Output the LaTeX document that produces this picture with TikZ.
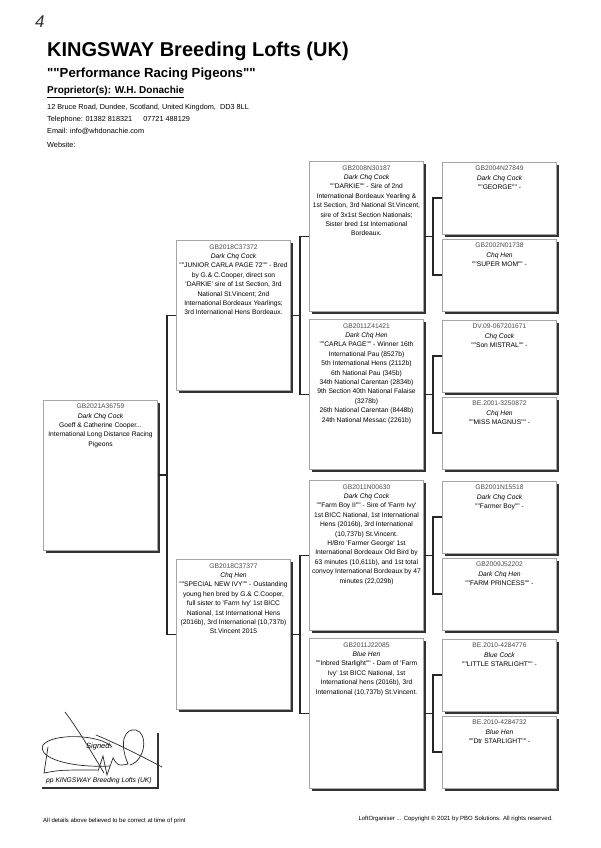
\documentclass[tikz,border=0pt]{standalone}
\usepackage{fontspec}
\setmainfont{Liberation Sans}[Ligatures=TeXOff]
\usetikzlibrary{trees,shadows}
\newcommand{\pigeon}[4][142pt]{\parbox[c][#1][t]{112pt}{\centering
  {\color{black!70}#2}\\ {\itshape #3}\\ #4\par}}
\tikzset{
  ped_box/.style = {rectangle, draw=black!35, fill=white, line width=0.4pt,
    inner xsep=1pt, inner ysep=4pt, font=\fontsize{6.7}{9.4}\selectfont,
    drop shadow={shadow xshift=2.5pt, shadow yshift=-2.5pt,
      fill=black!80, opacity=1}},% pedigree, one bird
  ped_link/.style = {draw, line width=1.6pt, black!85},% pedigree, fork line
  head_txt/.style = {anchor=base west, inner sep=0pt},% letterhead text
  sig_pen/.style = {line width=0.7pt, black!85, line cap=round}% signature stroke
}

\begin{document}
\begin{tikzpicture}[x=1pt,y=-1pt,grow'=right,level distance=133pt,
  level 1/.style={sibling distance=319pt},
  level 2/.style={sibling distance=158pt},
  level 3/.style={sibling distance=77pt},
  edge from parent/.style={ped_link},
  edge from parent path={(\tikzparentnode.east) -- +(9.5pt,0)
    |- (\tikzchildnode.west)}]
\useasboundingbox (0,0) rectangle (600,848);

% letterhead
\node [head_txt, font=\itshape\fontsize{17}{17}\selectfont, black!80] (pagenum) at (35,28) {4};
\node [head_txt, font=\bfseries\fontsize{20}{24}\selectfont] (title) at (47,57) {KINGSWAY Breeding Lofts (UK)};
\node [head_txt, font=\bfseries\fontsize{13.2}{16}\selectfont] (motto) at (47,78) {""Performance Racing Pigeons""};
\node [head_txt, font=\bfseries\fontsize{10}{12}\selectfont] (owner) at (47,94) {\underline{Proprietor(s): W.H. Donachie}};
\node [head_txt, font=\fontsize{7.3}{9}\selectfont] (addr) at (47,109.5) {12 Bruce Road, Dundee, Scotland, United Kingdom,\ \ DD3 8LL};
\node [head_txt, font=\fontsize{7.3}{9}\selectfont] (phone) at (47,121.5) {Telephone: 01382 818321\hspace{11pt}07721 488129};
\node [head_txt, font=\fontsize{7.3}{9}\selectfont] (mail) at (47,134) {Email: info@whdonachie.com};
\node [head_txt, font=\fontsize{7.3}{9}\selectfont] (web) at (47,147) {Website:};

% pedigree
\node [ped_box] (bird) at (100.5,475) {\pigeon{GB2021A36759}{Dark Chq Cock}{Goeff \& Catherine Cooper...\\International Long Distance Racing\\Pigeons}}
    child{ node [ped_box] (sire) {\pigeon{GB2018C37372}{Dark Chq Cock}{""JUNIOR CARLA PAGE 72"" - Bred\\by G.\& C.Cooper, direct son\\'DARKIE' sire of 1st Section, 3rd\\National St.Vincent; 2nd\\International Bordeaux Yearlings;\\3rd International Hens Bordeaux.}}
            child{ node [ped_box] (sire_s) {\pigeon{GB2008N30187}{Dark Chq Cock}{""DARKIE"" - Sire of 2nd\\International Bordeaux Yearling \&\\1st Section, 3rd National St.Vincent,\\sire of 3x1st Section Nationals;\\Sister bred 1st International\\Bordeaux.}}
                    child{ node [ped_box] (sire_ss) {\pigeon[64pt]{GB2004N27849}{Dark Chq Cock}{""GEORGE"" -}}}
                    child{ node [ped_box] (sire_sd) {\pigeon[64pt]{GB2002N01738}{Chq Hen}{""SUPER MOM"" -}}}
            }
            child{ node [ped_box] (sire_d) {\pigeon{GB2011Z41421}{Dark Chq Hen}{""CARLA PAGE"" - Winner 16th\\International Pau (8527b)\\5th International Hens (2112b)\\6th National Pau (345b)\\34th National Carentan (2834b)\\9th Section 40th National Falaise\\(3278b)\\26th National Carentan (8448b)\\24th National Messac (2261b)}}
                    child{ node [ped_box] (sire_ds) {\pigeon[64pt]{DV.09-067201671}{Chq Cock}{""Son MISTRAL"" -}}}
                    child{ node [ped_box] (sire_dd) {\pigeon[64pt]{BE.2001-3250872}{Chq Hen}{""MISS MAGNUS"" -}}}
            }
    }
    child{ node [ped_box] (dam) {\pigeon{GB2018C37377}{Chq Hen}{""SPECIAL NEW IVY"" - Oustanding\\young hen bred by G.\& C.Cooper,\\full sister to 'Farm Ivy' 1st BICC\\National, 1st International Hens\\(2016b), 3rd International (10,737b)\\St.Vincent 2015}}
            child{ node [ped_box] (dam_s) {\pigeon{GB2011N00630}{Dark Chq Cock}{""Farm Boy II"" - Sire of 'Farm Ivy'\\1st BICC National, 1st International\\Hens (2016b), 3rd International\\(10,737b) St.Vincent.\\H/Bro 'Farmer George' 1st\\International Bordeaux Old Bird by\\63 minutes (10,611b), and 1st total\\convoy International Bordeaux by 47\\minutes (22,029b)}}
                    child{ node [ped_box] (dam_ss) {\pigeon[64pt]{GB2001N15518}{Dark Chq Cock}{""Farmer Boy"" -}}}
                    child{ node [ped_box] (dam_sd) {\pigeon[64pt]{GB2009J52202}{Dark Chq Hen}{""FARM PRINCESS"" -}}}
            }
            child{ node [ped_box] (dam_d) {\pigeon{GB2011J22085}{Blue Hen}{""Inbred Starlight"" - Dam of 'Farm\\Ivy' 1st BICC National, 1st\\International hens (2016b), 3rd\\International (10,737b) St.Vincent.}}
                    child{ node [ped_box] (dam_ds) {\pigeon[64pt]{BE.2010-4284776}{Blue Cock}{""LITTLE STARLIGHT"" -}}}
                    child{ node [ped_box] (dam_dd) {\pigeon[64pt]{BE.2010-4284732}{Blue Hen}{""Dtr STARLIGHT"" -}}}
            }
    }
;

% signature
\draw [sig_pen] (65,712) .. controls (80,732) and (95,758) .. (104,773);
\draw [sig_pen] (112,747) .. controls (100,734) and (52,733) .. (43,745)
  .. controls (37,758) and (70,768) .. (110,766);
\draw [sig_pen] (96,735) .. controls (120,745) and (145,758) .. (162,767);
\draw [sig_pen] (48,747) -- (44,773) .. controls (60,770) .. (97,770);
\draw [sig_pen] (98,771) -- (103,756) -- (107,775) -- (113,758)
  .. controls (118,766) .. (128,764) .. controls (118,740) and (126,728) .. (136,730)
  .. controls (148,733) and (146,760) .. (130,765);
\draw [line width=1.6pt, black!80] (42,788) -| (158,733);
\node [head_txt, font=\itshape\fontsize{7.5}{9}\selectfont] (signed) at (86,748) {Signed:};
\node [head_txt, font=\itshape\fontsize{6.7}{8}\selectfont] (pp) at (46,782) {pp KINGSWAY Breeding Lofts (UK)};

% footer
\node [head_txt, font=\fontsize{6}{7}\selectfont] (note) at (43,822) {All details above believed to be correct at time of print};
\node [head_txt, anchor=base east, font=\fontsize{6}{7}\selectfont] (copy) at (553,820) {LoftOrganiser ... Copyright © 2021 by PBO Solutions. All rights reserved.};
\end{tikzpicture}
\end{document}
